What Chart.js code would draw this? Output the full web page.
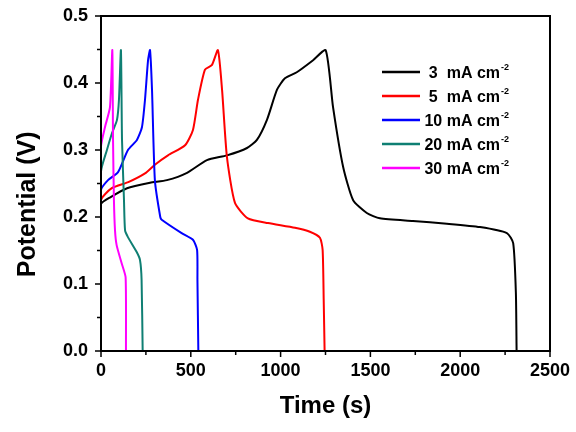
<!DOCTYPE html>
<html>
<head>
<meta charset="utf-8">
<script src="https://cdn.jsdelivr.net/npm/chart.js@4/dist/chart.umd.min.js"></script>
<style>
  html, body { margin: 0; padding: 0; background: #fff; }
  #wrap { width: 576px; height: 432px; }
</style>
</head>
<body>
<div id="wrap"><canvas id="gcd"></canvas></div>
<script>
// galvanostatic charge/discharge curves
var t3  = [0, 0, 56, 145, 273, 367, 479, 590, 701, 813, 868, 924, 980, 1024, 1090, 1181, 1251, 1292, 1348, 1404, 1480, 1553, 1737, 1926, 2110, 2260, 2295, 2310, 2314];
var v3  = [0, 0.219, 0.230, 0.243, 0.251, 0.255, 0.266, 0.285, 0.292, 0.303, 0.315, 0.345, 0.390, 0.407, 0.416, 0.434, 0.449, 0.364, 0.275, 0.225, 0.206, 0.198, 0.194, 0.190, 0.185, 0.176, 0.161, 0.087, 0];

var t5  = [0, 0, 60, 152, 245, 300, 373, 468, 512, 540, 579, 618, 651, 674, 701, 746, 818, 930, 1080, 1163, 1219, 1234, 1240, 1245];
var v5  = [0.035, 0.225, 0.243, 0.252, 0.265, 0.278, 0.292, 0.307, 0.330, 0.375, 0.420, 0.427, 0.449, 0.390, 0.290, 0.221, 0.198, 0.191, 0.184, 0.178, 0.169, 0.151, 0.076, 0];

var t10 = [0, 0, 39, 95, 150, 200, 228, 245, 262, 273, 284, 300, 330, 338, 449, 512, 535, 537, 542];
var v10 = [0.05, 0.240, 0.255, 0.267, 0.300, 0.315, 0.334, 0.375, 0.434, 0.449, 0.390, 0.255, 0.200, 0.196, 0.176, 0.166, 0.151, 0.106, 0];

var t20 = [0, 0, 33, 61, 89, 100, 111, 117, 128, 134, 150, 198, 217, 226, 232];
var v20 = [0.08, 0.268, 0.300, 0.325, 0.345, 0.375, 0.449, 0.315, 0.225, 0.180, 0.170, 0.148, 0.136, 0.106, 0];

var t30 = [0, 0, 22, 50, 63, 67, 72, 78, 87, 115, 137, 139];
var v30 = [0.1, 0.305, 0.334, 0.364, 0.449, 0.315, 0.225, 0.180, 0.158, 0.131, 0.110, 0];

var labels  = ['3  mA cm', '5  mA cm', '10 mA cm', '20 mA cm', '30 mA cm'];
var supText = '-2';
var colors  = ['#000000', '#ff0000', '#0000ff', '#0f7f73', '#ff00ff'];

var xTicks = [0, 500, 1000, 1500, 2000, 2500];
var yTicks = [0.0, 0.1, 0.2, 0.3, 0.4, 0.5];

function pts(t, v) {
  return t.map(function(x, i) { return { x: x, y: v[i] }; });
}

var series = [pts(t3, v3), pts(t5, v5), pts(t10, v10), pts(t20, v20), pts(t30, v30)];

var datasets = series.map(function(d, i) {
  return {
    label: labels[i] + '\u207B\u00B2',
    data: d,
    borderColor: colors[i],
    backgroundColor: colors[i],
    borderWidth: 2,
    pointRadius: 0,
    tension: 0.2,
    fill: false,
    order: series.length - i
  };
});

// frame, outward major/minor ticks and the inset legend
var decor = {
  id: 'decor',
  afterDatasetsDraw: function(chart) {
    var ctx = chart.ctx, a = chart.chartArea;
    var xs = chart.scales.x, ys = chart.scales.y;
    ctx.save();
    ctx.strokeStyle = '#000';
    ctx.lineWidth = 2;
    ctx.strokeRect(a.left, a.top, a.right - a.left, a.bottom - a.top);

    ctx.lineWidth = 1.5;
    ctx.beginPath();
    for (var i = 0; i <= 10; i++) {
      var y = ys.getPixelForValue(i * 0.05);
      var len = (i % 2 === 0) ? 6 : 4;
      ctx.moveTo(a.left, y); ctx.lineTo(a.left - len, y);
    }
    for (var j = 0; j <= 10; j++) {
      var x = xs.getPixelForValue(j * 250);
      var l2 = (j % 2 === 0) ? 6 : 4;
      ctx.moveTo(x, a.bottom); ctx.lineTo(x, a.bottom + l2);
    }
    ctx.stroke();

    // legend
    var right = 500, y0 = 72;
    ctx.textBaseline = 'alphabetic';
    for (var k = 0; k < labels.length; k++) {
      var cy = y0 + k * 24;
      ctx.strokeStyle = colors[k];
      ctx.lineWidth = 2.5;
      ctx.beginPath();
      ctx.moveTo(382, cy); ctx.lineTo(420, cy);
      ctx.stroke();
      ctx.fillStyle = '#000';
      ctx.font = 'bold 16px "Liberation Sans", Arial, sans-serif';
      ctx.textAlign = 'right';
      ctx.fillText(labels[k], right, cy + 6);
      ctx.font = 'bold 9px "Liberation Sans", Arial, sans-serif';
      ctx.textAlign = 'left';
      ctx.fillText(supText, right + 1, cy - 2);
    }
    ctx.restore();
  }
};

new Chart(document.getElementById('gcd'), {
  type: 'line',
  data: { datasets: datasets },
  options: {
    responsive: true,
    maintainAspectRatio: false,
    animation: false,
    layout: { padding: { top: 16, right: 26, left: 0, bottom: 0 } },
    plugins: {
      legend: { display: false },
      tooltip: { enabled: false }
    },
    scales: {
      x: {
        type: 'linear',
        min: 0,
        max: 2500,
        afterFit: function(s) { s.height = 81; s.paddingLeft = 0; s.paddingRight = 0; },
        afterBuildTicks: function(s) { s.ticks = xTicks.map(function(v) { return { value: v }; }); },
        grid: { display: false, drawTicks: false },
        border: { display: false },
        ticks: {
          padding: 9,
          color: '#000',
          callback: function(v) { return String(v); },
          font: { family: '"Liberation Sans", Arial, sans-serif', size: 18, weight: 'bold' }
        },
        title: {
          display: true,
          text: 'Time (s)',
          color: '#000',
          padding: { top: 0, bottom: 11 },
          font: { family: '"Liberation Sans", Arial, sans-serif', size: 24, weight: 'bold' }
        }
      },
      y: {
        type: 'linear',
        min: 0,
        max: 0.5,
        afterFit: function(s) { s.width = 101; s.paddingTop = 0; s.paddingBottom = 0; },
        afterBuildTicks: function(s) { s.ticks = yTicks.map(function(v) { return { value: v }; }); },
        grid: { display: false, drawTicks: false },
        border: { display: false },
        ticks: {
          padding: 13,
          color: '#000',
          callback: function(v) { return Number(v).toFixed(1); },
          font: { family: '"Liberation Sans", Arial, sans-serif', size: 18, weight: 'bold' }
        },
        title: {
          display: true,
          text: 'Potential (V)      ',
          color: '#000',
          padding: { top: 13, bottom: 0 },
          font: { family: '"Liberation Sans", Arial, sans-serif', size: 25, weight: 'bold' }
        }
      }
    }
  },
  plugins: [decor]
});
</script>
</body>
</html>
